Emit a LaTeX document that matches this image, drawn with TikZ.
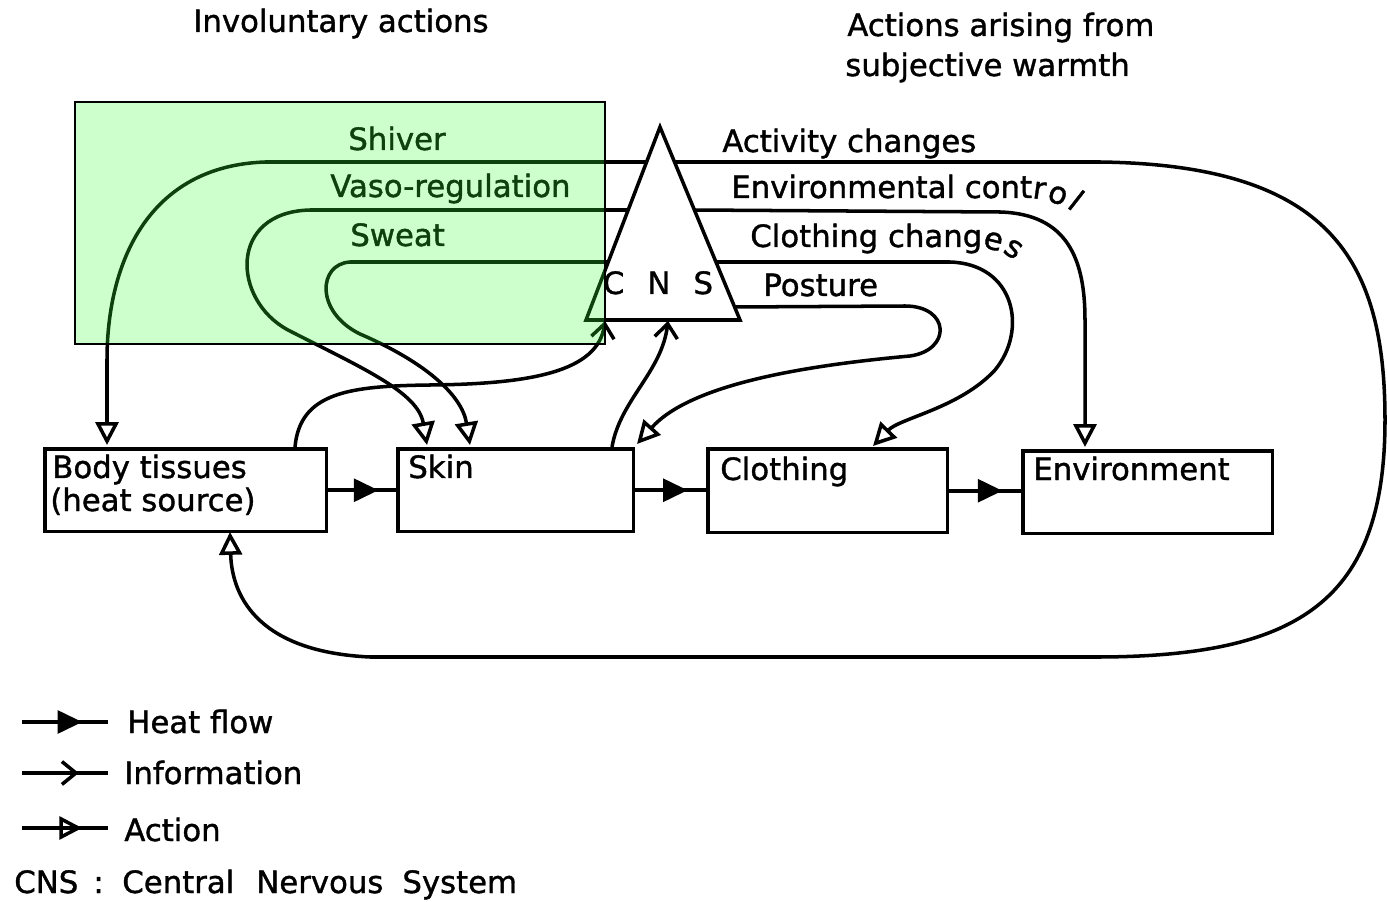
\documentclass[tikz,border=0pt]{standalone}
\usepackage{fontspec}
\setmainfont{DejaVu Sans}[BoldFont={DejaVu Sans},BoldFeatures={FakeBold=1.2}]
\usetikzlibrary{arrows.meta,decorations.markings}
\newcommand{\lbl}{\fontsize{17.5}{20}\selectfont\bfseries}
\definecolor{overgreen}{rgb}{0.2,1,0.2}
\tikzset{
 ln/.style={line width=2pt},
 act/.style={ln,-{Triangle[open,length=13pt,width=13pt]}},
 info/.style={ln,-{Straight Barb[length=8pt,width=13pt]}},
 heat/.style={ln,postaction={decorate},decoration={markings,mark=at position #1 with {\arrow{Triangle[length=14pt,width=13pt]}}}},
 heat/.default=0.74,
 midinfo/.style={ln,postaction={decorate},decoration={markings,mark=at position #1 with {\arrow[line width=2pt]{Straight Barb[length=8pt,width=13pt]}}}},
 midact/.style={ln,postaction={decorate},decoration={markings,mark=at position #1 with {\arrow[line width=2pt]{Triangle[open,length=13pt,width=13pt]}}}},
 box/.style={draw,line width=2pt,anchor=north west,inner sep=0pt},
 txt/.style={inner sep=0pt,anchor=base west,font=\lbl},
 tl/.style={inner sep=0pt,anchor=base west,font=\lbl,rotate=#1},
}
\begin{document}
\begin{tikzpicture}[x=0.02cm,y=-0.02cm]
\useasboundingbox (0,0) rectangle (1387,902);
% titles
\node[txt] (t1) at (193,32) {Involuntary actions};
\node[txt] (t2) at (847,36) {Actions arising from};
\node[txt] (t3) at (845,76) {subjective warmth};
% boxes
\node[box,minimum width=5.64cm,minimum height=1.66cm] (body) at (43,447) {};
\node[box,minimum width=4.72cm,minimum height=1.66cm] (skin) at (396,447) {};
\node[box,minimum width=4.80cm,minimum height=1.68cm] (cloth) at (706,447) {};
\node[box,minimum width=5.00cm,minimum height=1.66cm] (env) at (1021,449) {};
\node[txt] (bodyt) at (52,478) {Body tissues};
\node[txt] (bodyt2) at (50,511) {(heat source)};
\node[txt] (skint) at (408,478) {Skin};
\node[txt] (clotht) at (720,480) {Clothing};
\node[txt] (envt) at (1033,480) {Environment};
% heat flows
\draw[heat] (body.east) -- (body.east -| skin.west);
\draw[heat] (skin.east) -- (skin.east -| cloth.west);
\draw[heat] (cloth.east) -- (cloth.east -| env.west);
% CNS triangle
\coordinate (apex) at (660,127);
\coordinate (bl) at (586,320);
\coordinate (br) at (740,320);
\draw[ln,line join=miter] (apex) -- (br) -- (bl) -- cycle;
\node[font=\lbl,inner sep=0pt,anchor=base] (cns) at (658,294) {C\hspace{0.75em}N\hspace{0.75em}S};
% exit points on triangle
\coordinate (L1) at (647,162);
\coordinate (L2) at (628,210);
\coordinate (L3) at (608,262);
\coordinate (R1) at (675,162);
\coordinate (R2) at (694,210);
\coordinate (R3) at (716,262);
\coordinate (R4) at (735,307);
\coordinate (inA) at (605,321);
\coordinate (inB) at (668,321);
% involuntary actions
\draw[act] (L1) -- (265,162) .. controls (150,166) and (107,260) .. (107,360) -- (107,445);
\draw[act] (L2) -- (310,210) .. controls (228,212) and (232,300) .. (288,330) .. controls (362,368) and (418,392) .. (427,445);
\draw[act] (L3) -- (350,262) .. controls (318,264) and (315,312) .. (360,334) .. controls (425,362) and (462,395) .. (470,445);
% subjective actions
\draw[act] (R1) -- (1100,162) .. controls (1330,165) and (1385,260) .. (1385,420) .. controls (1385,600) and (1300,656) .. (1100,657) -- (370,657) .. controls (262,652) and (232,600) .. (230,532);
\draw[act] (R2) -- (1000,212) .. controls (1068,214) and (1085,260) .. (1085,320) -- (1085,447);
\draw[act] (R3) -- (950,262) .. controls (1015,264) and (1028,330) .. (995,370) .. controls (960,408) and (900,418) .. (873,446);
\draw[act] (R4) -- (905,306) .. controls (950,306) and (952,350) .. (910,356) .. controls (800,366) and (690,385) .. (637,444);
% information
\draw[info] (body.north -| 295,0) .. controls (300,392) and (350,386) .. (430,385) .. controls (530,384) and (598,372) .. (inA);
\draw[info] (skin.north -| 612,0) .. controls (620,400) and (662,372) .. (inB);
% labels
\node[txt] (lsh) at (348,150) {Shiver};
\node[txt] (lva) at (330,197) {Vaso-regulation};
\node[txt] (lsw) at (350,246) {Sweat};
\node[txt] (lac) at (722,152) {Activity changes};
\node[txt] (lec) at (731,198) {Environmental cont};
\node[tl=-8] (lr) at ([xshift=-0.5pt]lec.base east) {r};
\node[tl=-20] (lo) at ([xshift=0.5pt]lr.base east) {o};
\node[tl=-38] (ll) at ([xshift=1pt]lo.base east) {l};
\node[txt] (lcc) at (750,247) {Clothing chang};
\node[tl=-14] (le) at ([xshift=-0.5pt]lcc.base east) {e};
\node[tl=-32] (ls) at ([xshift=0.5pt]le.base east) {s};
\node[txt] (lpo) at (763,296) {Posture};
% green overlay
\path[draw=black,line width=1pt,fill=overgreen,fill opacity=0.25] (75,102) rectangle (605,344);
% legend
\coordinate (h1) at (22,722); \coordinate (h2) at (108,722);
\coordinate (i1) at (22,773); \coordinate (i2) at (108,773);
\coordinate (a1) at (22,828); \coordinate (a2) at (108,828);
\draw[heat=0.7] (h1) -- (h2);
\draw[midinfo=0.66] (i1) -- (i2);
\draw[midact=0.7] (a1) -- (a2);
\node[txt] (lg1) at (127,733) {Heat flow};
\node[txt] (lg2) at (124,784) {Information};
\node[txt] (lg3) at (124,841) {Action};
\node[txt] (lg4a) at (14,893) {CNS};
\node[txt] (lg4b) at (93,893) {:};
\node[txt] (lg4c) at (122,893) {Central\hspace{0.4em} Nervous\hspace{0.3em} System};
\end{tikzpicture}
\end{document}
